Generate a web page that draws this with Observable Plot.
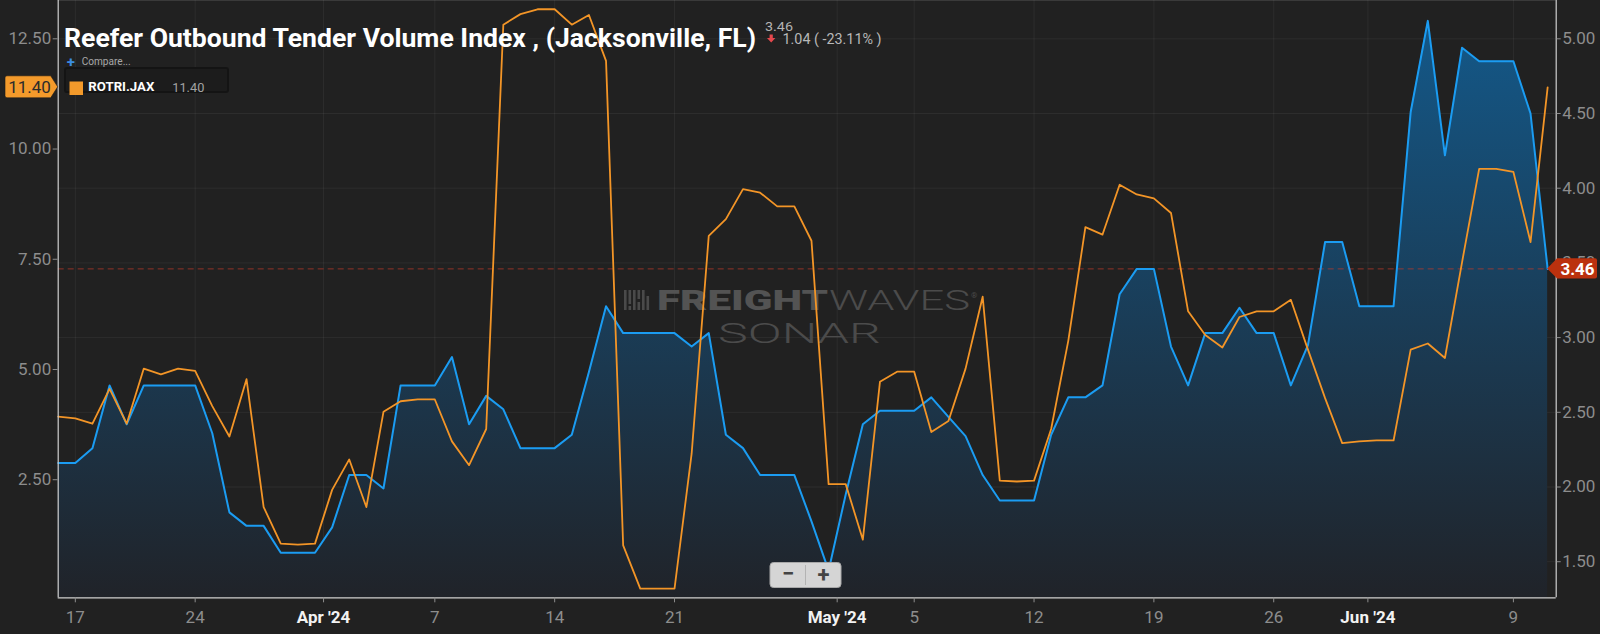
<!DOCTYPE html>
<html><head><meta charset="utf-8">
<script src="https://cdn.jsdelivr.net/npm/d3@7"></script>
<script src="https://cdn.jsdelivr.net/npm/@observablehq/plot@0.6"></script>
<style>
html,body{margin:0;padding:0;background:#212121;}
#chart{width:1600px;height:634px;overflow:hidden;}
#chart svg{display:block;}
</style></head><body><div id="chart"></div>
<script>
// ---- data ----
const dates = [
"2024-03-16","2024-03-17","2024-03-18","2024-03-19","2024-03-20","2024-03-21","2024-03-22","2024-03-23","2024-03-24","2024-03-25",
"2024-03-26","2024-03-27","2024-03-28","2024-03-29","2024-03-30","2024-03-31","2024-04-01","2024-04-02","2024-04-03","2024-04-04",
"2024-04-05","2024-04-06","2024-04-07","2024-04-08","2024-04-09","2024-04-10","2024-04-11","2024-04-12","2024-04-13","2024-04-14",
"2024-04-15","2024-04-16","2024-04-17","2024-04-18","2024-04-19","2024-04-20","2024-04-21","2024-04-22","2024-04-23","2024-04-24",
"2024-04-25","2024-04-26","2024-04-27","2024-04-28","2024-04-29","2024-04-30","2024-05-01","2024-05-02","2024-05-03","2024-05-04",
"2024-05-05","2024-05-06","2024-05-07","2024-05-08","2024-05-09","2024-05-10","2024-05-11","2024-05-12","2024-05-13","2024-05-14",
"2024-05-15","2024-05-16","2024-05-17","2024-05-18","2024-05-19","2024-05-20","2024-05-21","2024-05-22","2024-05-23","2024-05-24",
"2024-05-25","2024-05-26","2024-05-27","2024-05-28","2024-05-29","2024-05-30","2024-05-31","2024-06-01","2024-06-02","2024-06-03",
"2024-06-04","2024-06-05","2024-06-06","2024-06-07","2024-06-08","2024-06-09","2024-06-10","2024-06-11"];

// Reefer Outbound Tender Volume Index (blue area, right axis)
const rotvi = [
2.16,2.16,2.26,2.68,2.42,2.68,2.68,2.68,2.68,2.36,
1.83,1.74,1.74,1.56,1.56,1.56,1.73,2.08,2.08,1.99,
2.68,2.68,2.68,2.87,2.42,2.61,2.52,2.26,2.26,2.26,
2.35,2.77,3.21,3.03,3.03,3.03,3.03,2.94,3.03,2.35,
2.26,2.08,2.08,2.08,1.77,1.44,1.95,2.42,2.51,2.51,
2.51,2.60,2.47,2.34,2.08,1.91,1.91,1.91,2.35,2.60,
2.60,2.68,3.29,3.46,3.46,2.94,2.68,3.03,3.03,3.20,
3.03,3.03,2.68,2.95,3.64,3.64,3.21,3.21,3.21,4.51,
5.12,4.22,4.94,4.85,4.85,4.85,4.50,3.46];

// ROTRI.JAX (orange line, left axis)
const rotri = [
3.93,3.89,3.77,4.56,3.77,5.02,4.89,5.02,4.97,4.17,
3.48,4.78,1.88,1.05,1.03,1.05,2.27,2.96,1.88,4.04,
4.28,4.32,4.32,3.37,2.83,3.65,12.82,13.06,13.17,13.17,
12.82,13.04,12.00,1.01,0.03,0.03,0.03,3.09,8.03,8.41,
9.09,9.01,8.70,8.70,7.92,2.40,2.40,1.14,4.72,4.95,
4.95,3.58,3.83,5.02,6.65,2.48,2.46,2.48,3.65,5.65,
8.23,8.06,9.19,8.97,8.88,8.55,6.32,5.78,5.50,6.19,
6.32,6.32,6.58,5.45,4.35,3.33,3.37,3.39,3.39,5.45,
5.59,5.26,7.43,9.55,9.55,9.48,7.89,11.40];

const dayTicks  = ["2024-03-17","2024-03-24","2024-04-07","2024-04-14","2024-04-21","2024-05-05","2024-05-12","2024-05-19","2024-05-26","2024-06-09"];
const dayLabels = ["17","24","7","14","21","5","12","19","26","9"];
const monthTicks  = ["2024-03-31T12:00Z","2024-04-30T12:00Z","2024-05-31T12:00Z"];
const monthLabels = ["Apr '24","May '24","Jun '24"];
const rightTicks = [1.5,2,2.5,3,3.5,4,4.5,5];
const leftTicks  = [2.5,5,7.5,10,12.5];
const lastRotvi = 3.46, lastRotri = 11.40;
const changeText = "1.04 ( -23.11% )";
const titleText = "Reefer Outbound Tender Volume Index , (Jacksonville, FL)";
const seriesName = "ROTRI.JAX";

// ---- build ----
const data = dates.map((d, i) => ({date: new Date(d), blue: rotvi[i], orange: rotri[i]}));
const yDomain = [1.2584, 5.2564];
const xDomain = [new Date("2024-03-16"), new Date("2024-06-11T12:00Z")];
// left axis (ROTRI) mapped onto the right-axis scale
const leftToRight = d3.scaleLinear([0, 12.5], [1.311, 5.0]);
const dayMap = new Map(dayTicks.map((d, i) => [+new Date(d), dayLabels[i]]));
const monthMap = new Map(monthTicks.map((d, i) => [+new Date(d), monthLabels[i]]));
const allTicks = [...dayTicks, ...monthTicks].map(d => new Date(d));
const FONT = "Roboto, 'Noto Sans', sans-serif";

function defs() {
  const d = d3.create("svg:defs");
  const g = d.append("linearGradient").attr("id", "blueFill")
    .attr("gradientUnits", "userSpaceOnUse").attr("x1", 0).attr("x2", 0).attr("y1", 0).attr("y2", 597);
  g.append("stop").attr("offset", 0).attr("stop-color", "#135a8c");
  g.append("stop").attr("offset", 1).attr("stop-color", "#202329");
  return d.node();
}

function watermark() {
  const g = d3.create("svg:g").attr("font-family", FONT).attr("text-anchor", "start");
  const bars = [[624, 290, 20], [628.5, 290, 14], [628.5, 306, 4], [633, 290, 20], [637.5, 290, 9], [637.5, 302, 8], [642, 290, 20], [646.5, 296, 14]];
  for (const [x, y, h] of bars) {
    g.append("rect").attr("x", x).attr("y", y).attr("width", 2.6).attr("height", h).attr("fill", "#4a4a4a");
  }
  g.append("text").attr("x", 657).attr("y", 310).attr("font-size", 27).attr("font-weight", 900)
    .attr("fill", "#535353").attr("textLength", 171).attr("lengthAdjust", "spacingAndGlyphs").text("FREIGHT");
  g.append("text").attr("x", 829).attr("y", 310).attr("font-size", 27).attr("font-weight", 300)
    .attr("fill", "#4b4b4b").attr("textLength", 141).attr("lengthAdjust", "spacingAndGlyphs").text("WAVES");
  g.append("text").attr("x", 971).attr("y", 298).attr("font-size", 8).attr("fill", "#4b4b4b").text("®");
  g.append("text").attr("x", 718).attr("y", 343).attr("font-size", 28).attr("font-weight", 300)
    .attr("fill", "#4b4b4b").attr("textLength", 163).attr("lengthAdjust", "spacingAndGlyphs").text("SONAR");
  return g.node();
}

function overlay(index, scales, values, dimensions) {
  const g = d3.create("svg:g").attr("font-family", FONT).attr("text-anchor", "start");
  // title block
  g.append("text").attr("x", 64).attr("y", 46.5).attr("font-size", 25).attr("font-weight", 700)
    .attr("fill", "#ffffff").attr("textLength", 692).attr("lengthAdjust", "spacingAndGlyphs").text(titleText);
  g.append("text").attr("x", 765).attr("y", 30.5).attr("font-size", 13.5).attr("fill", "#b3b3b3")
    .attr("textLength", 28).attr("lengthAdjust", "spacingAndGlyphs").text(lastRotvi.toFixed(2));
  g.append("path").attr("d", "M769.6,34.5h3.2v3.6h2.6l-4.2,4.4l-4.2,-4.4h2.6z").attr("fill", "#e5484d");
  g.append("text").attr("x", 782.5).attr("y", 44).attr("font-size", 14).attr("fill", "#b8b8b8")
    .attr("textLength", 99).attr("lengthAdjust", "spacingAndGlyphs").text(changeText);
  g.append("text").attr("x", 70.8).attr("y", 66.5).attr("text-anchor", "middle").attr("font-size", 15)
    .attr("font-weight", 700).attr("fill", "#3b8de0").text("+");
  g.append("text").attr("x", 81.7).attr("y", 64.5).attr("font-size", 11).attr("fill", "#a8a8a8")
    .attr("textLength", 49).attr("lengthAdjust", "spacingAndGlyphs").text("Compare...");
  // legend box
  g.append("rect").attr("x", 65).attr("y", 68).attr("width", 163).attr("height", 24).attr("rx", 2)
    .attr("fill", "#1c1c1c").attr("stroke", "#141414").attr("stroke-width", 2);
  g.append("rect").attr("x", 69.5).attr("y", 81.5).attr("width", 13.5).attr("height", 13.5).attr("fill", "#f39a2b");
  g.append("text").attr("x", 88.3).attr("y", 90.7).attr("font-size", 13.5).attr("font-weight", 700)
    .attr("fill", "#ffffff").attr("textLength", 66).attr("lengthAdjust", "spacingAndGlyphs").text(seriesName);
  g.append("text").attr("x", 172.3).attr("y", 92.3).attr("font-size", 13.5).attr("fill", "#a3a3a3")
    .attr("textLength", 32).attr("lengthAdjust", "spacingAndGlyphs").text(lastRotri.toFixed(2));
  // left value tag (ROTRI)
  const x0 = dimensions.marginLeft;
  const yL = scales.y(leftToRight(lastRotri));
  g.append("path").attr("d", `M7,${yL - 11}H${x0 - 7}L${x0},${yL}L${x0 - 7},${yL + 11}H7q-2,0 -2,-2V${yL - 9}q0,-2 2,-2Z`)
    .attr("fill", "#f39a2b").attr("stroke", "#1a1a1a").attr("stroke-width", 0.6);
  g.append("text").attr("x", 29.5).attr("y", yL + 6).attr("text-anchor", "middle").attr("font-size", 17)
    .attr("fill", "#2b2b2b").text(lastRotri.toFixed(2));
  // right value tag (ROTVI)
  const xR = scales.x(data[data.length - 1].date);
  const yR = scales.y(lastRotvi);
  g.append("path").attr("d", `M${xR},${yR}L${xR + 10},${yR - 10.2}H1595q2,0 2,2V${yR + 8.2}q0,2 -2,2H${xR + 10}Z`)
    .attr("fill", "#bb310e");
  g.append("text").attr("x", 1577.5).attr("y", yR + 6.2).attr("text-anchor", "middle").attr("font-size", 17)
    .attr("font-weight", 700).attr("fill", "#ffffff").text(lastRotvi.toFixed(2));
  // zoom control
  g.append("rect").attr("x", 770).attr("y", 562.5).attr("width", 71).attr("height", 25).attr("rx", 3.5)
    .attr("fill", "#d5d5d5").attr("stroke", "#a9a9a9");
  g.append("line").attr("x1", 805.5).attr("x2", 805.5).attr("y1", 565).attr("y2", 585).attr("stroke", "#b3b3b3");
  g.append("text").attr("x", 788).attr("y", 581).attr("text-anchor", "middle").attr("font-size", 22)
    .attr("font-weight", 700).attr("fill", "#444").text("−");
  g.append("text").attr("x", 823.5).attr("y", 581.5).attr("text-anchor", "middle").attr("font-size", 22)
    .attr("font-weight", 700).attr("fill", "#444").text("+");
  return g.node();
}

const chart = Plot.plot({
  width: 1600, height: 634,
  marginTop: 0, marginBottom: 36.7, marginLeft: 57.7, marginRight: 44.3,
  style: {background: "#212121", fontFamily: FONT, color: "#8d8d8d", fontSize: "17px", overflow: "visible"},
  x: {type: "utc", domain: xDomain},
  y: {domain: yDomain},
  marks: [
    defs,
    Plot.ruleY([yDomain[1]], {stroke: "#3a3a3a"}),
    Plot.gridY(rightTicks, {stroke: "#ffffff", strokeOpacity: 0.055}),
    Plot.gridX(allTicks, {stroke: "#ffffff", strokeOpacity: 0.055}),
    Plot.areaY(data, {x: "date", y1: yDomain[0], y2: "blue", fill: "url(#blueFill)"}),
    watermark,
    Plot.ruleY([lastRotvi], {stroke: "#c0392b", strokeOpacity: 0.7, strokeDasharray: "6,4"}),
    Plot.lineY(data, {x: "date", y: "blue", stroke: "#1b9cf2", strokeWidth: 2}),
    Plot.lineY(data, {x: "date", y: d => leftToRight(d.orange), stroke: "#f39527", strokeWidth: 1.8}),
    Plot.ruleX([xDomain[0]], {stroke: "#d0d0d0", strokeWidth: 1.2}),
    Plot.ruleX([xDomain[1]], {stroke: "#d0d0d0", strokeWidth: 1.2}),
    Plot.ruleY([yDomain[0]], {stroke: "#d0d0d0", strokeWidth: 1.2}),
    Plot.axisY(rightTicks, {anchor: "right", tickFormat: d => d.toFixed(2), tickSize: 4, tickPadding: 2,
      fontSize: 17, color: "#8d8d8d", label: null}),
    Plot.axisY(leftTicks.map(v => leftToRight(v)), {anchor: "left", tickFormat: d => leftToRight.invert(d).toFixed(2),
      tickSize: 5, tickPadding: 2, fontSize: 17, color: "#8d8d8d", label: null}),
    Plot.axisX(dayTicks.map(d => new Date(d)), {anchor: "bottom", tickFormat: d => dayMap.get(+d), tickSize: 5,
      tickPadding: 8, fontSize: 17, color: "#8d8d8d", label: null}),
    Plot.axisX(monthTicks.map(d => new Date(d)), {anchor: "bottom", tickFormat: d => monthMap.get(+d), tickSize: 5,
      tickPadding: 8, fontSize: 17, fontWeight: 700, fill: "#f2f2f2", stroke: "#8d8d8d", label: null}),
    overlay
  ]
});
document.getElementById("chart").appendChild(chart);
</script></body></html>
